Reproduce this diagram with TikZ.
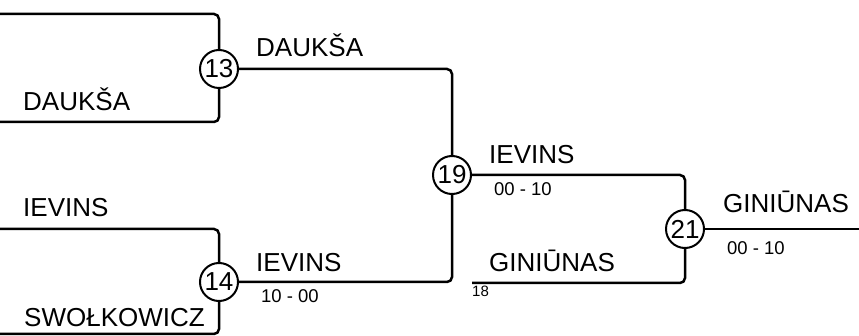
\documentclass[tikz,border=0pt]{standalone}
\usepackage{fontspec}
\setmainfont{Liberation Sans}
\usetikzlibrary{positioning}

\begin{document}
\begin{tikzpicture}[x=1pt,y=-1pt,
    line/.style={line width=2.5pt,rounded corners=5pt},
    match/.style={circle,draw,line width=2pt,minimum size=38pt,inner sep=0pt,
      fill=white,font=\fontsize{26}{26}\selectfont},
    player/.style={anchor=base west,inner sep=0pt,font=\fontsize{26}{26}\selectfont},
    score/.style={anchor=base west,inner sep=0pt,font=\fontsize{18.5}{18.5}\selectfont},
    seed/.style={anchor=base west,inner sep=0pt,font=\fontsize{15}{15}\selectfont}]
  \useasboundingbox (0,0) rectangle (859,336);
  % Matches
  \node[match] (m13) at (219,69) {13};
  \node[match] (m14) at (219,282) {14};
  \node[match] (m19) at (452,175) {19};
  \node[match] (m21) at (685,229) {21};
  % Free ends
  \coordinate (a1) at (0,14);
  \coordinate (a2) at (0,122);
  \coordinate (b1) at (0,229);
  \coordinate (b2) at (0,334);
  \coordinate (c2) at (472,283);
  \coordinate (fin) at (859,229);
  % Bracket lines
  \draw[line] (a1) -| (m13);
  \draw[line] (a2) -| (m13);
  \draw[line] (b1) -| (m14);
  \draw[line] (b2) -| (m14);
  \draw[line] (m13) -| (m19);
  \draw[line] (m14) -| (m19);
  \draw[line] (m19) -| (m21);
  \draw[line] (c2) -| (m21);
  \draw[line] (m21) -- (fin);
  % Names and scores
  \node[player] (p1) at (23,111) {DAUKŠA};
  \node[player] (p2) at (23,217) {IEVINS};
  \node[player] (p3) at (24,327) {SWOŁKOWICZ};
  \node[player] (w13) at (256,57) {DAUKŠA};
  \node[player] (w14) at (256,272) {IEVINS};
  \node[score] (s14) at (261,303) {10 - 00};
  \node[player] (w19) at (489,164) {IEVINS};
  \node[score] (s19) at (494,196) {00 - 10};
  \node[player] (p18) at (489,272) {GINIŪNAS};
  \node[seed] (n18) at (472,297) {18};
  \node[player] (w21) at (723,213) {GINIŪNAS};
  \node[score] (s21) at (727,255) {00 - 10};
\end{tikzpicture}
\end{document}
